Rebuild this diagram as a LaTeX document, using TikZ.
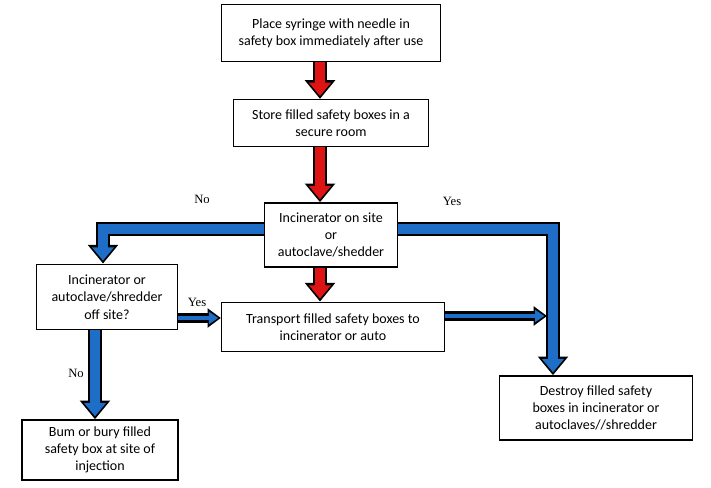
\documentclass[tikz,border=0pt]{standalone}
\usepackage{fontspec}
\setmainfont{Carlito}
\newfontfamily\labelfont{Liberation Serif}
\usetikzlibrary{arrows.meta}
\definecolor{flowred}{RGB}{222,20,20}
\definecolor{flowblue}{RGB}{30,110,200}
\begin{document}
\begin{tikzpicture}[
  x=0.75pt, y=-0.75pt,
  box/.style={draw, line width=1.2pt, fill=white, align=center, font=\fontsize{10.5}{13}\selectfont, inner sep=0pt},
  answer/.style={font=\labelfont\fontsize{9.5}{11}\selectfont},
  outer/.style={line width=11pt, black, -{Triangle[length=14pt, width=22pt]}},
  inner/.style={line width=7pt, #1, shorten >=2.2pt, -{Triangle[length=10pt, width=16pt]}},
  thin outer/.style={line width=7pt, black, -{Triangle[length=10pt, width=14pt]}},
  thin inner/.style={line width=3.5pt, #1, shorten >=2pt, -{Triangle[length=7pt, width=9pt]}}
  ]
  \useasboundingbox (0,0) rectangle (711,488);

  % Nodes
  \node (place) [box, minimum width=164pt, minimum height=43pt] at (331,33) {Place syringe with needle in\\safety box immediately after use};
  \node (store) [box, minimum width=146pt, minimum height=35pt] at (331,123) {Store filled safety boxes in a\\secure room};
  \node (onsite) [box, minimum width=100pt, minimum height=48pt] at (331,235) {Incinerator on site\\or\\autoclave/shedder};
  \node (offsite) [box, minimum width=106pt, minimum height=49pt] at (107,297) {Incinerator or\\autoclave/shredder\\off site?};
  \node (transport) [box, minimum width=167pt, minimum height=37pt] at (333,327) {Transport filled safety boxes to\\incinerator or auto};
  \node (destroy) [box, minimum width=145pt, minimum height=48pt] at (596,408) {Destroy filled safety\\boxes in incinerator or\\autoclaves//shredder};
  \node (burn) [box, minimum width=117pt, minimum height=45pt] at (100,450) {Bum or bury filled\\safety box at site of\\injection};
  \coordinate (noturn) at (103,229);
  \coordinate (yesturn) at (553,229);
  \coordinate (yesend) at (547,316);

  % Labels
  \node [answer] at (202,199) {No};
  \node [answer] at (452,201) {Yes};
  \node [answer] at (197,302) {Yes};
  \node [answer] at (76,373) {No};

  % Connections
  \foreach \a/\b in {place/store, store/onsite, onsite/transport} {
    \draw [outer] (\a.south -| 320,0) -- (\b.north -| 320,0);
    \draw [inner=flowred] (\a.south -| 320,0) -- (\b.north -| 320,0);
  }
  \draw [outer] (onsite.west |- noturn) -- (noturn) -- (offsite.north -| noturn);
  \draw [inner=flowblue] (onsite.west |- noturn) -- (noturn) -- (offsite.north -| noturn);
  \draw [outer] (onsite.east |- yesturn) -- (yesturn) -- (destroy.north -| yesturn);
  \draw [inner=flowblue] (onsite.east |- yesturn) -- (yesturn) -- (destroy.north -| yesturn);
  \draw [outer] (offsite.south -| 95,0) -- (burn.north -| 95,0);
  \draw [inner=flowblue] (offsite.south -| 95,0) -- (burn.north -| 95,0);
  \draw [thin outer] (offsite.east |- 0,318) -- (transport.west |- 0,318);
  \draw [thin inner=flowblue] (offsite.east |- 0,318) -- (transport.west |- 0,318);
  \draw [thin outer] (transport.east |- yesend) -- (yesend);
  \draw [thin inner=flowblue] (transport.east |- yesend) -- (yesend);
\end{tikzpicture}
\end{document}
